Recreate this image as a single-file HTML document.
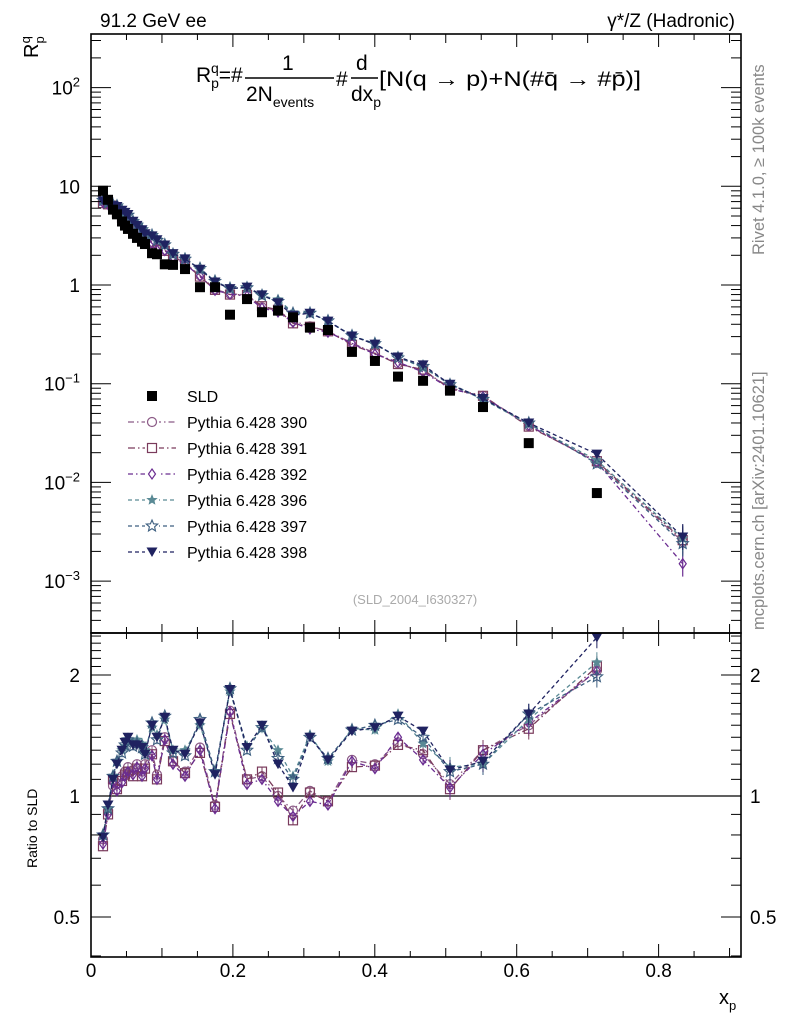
<!DOCTYPE html>
<html><head><meta charset="utf-8"><style>
html,body{margin:0;padding:0;background:#fff;}
svg{display:block;font-family:"Liberation Sans",sans-serif;}
</style></head><body>
<svg id="chart" width="786" height="1024" viewBox="0 0 786 1024" xmlns="http://www.w3.org/2000/svg">
<rect width="786" height="1024" fill="#fff"/>
<text x="100" y="27" font-size="19">91.2 GeV ee</text>
<text x="735" y="27" font-size="19" text-anchor="end">γ*/Z (Hadronic)</text>
<g transform="translate(38,58) rotate(-90)"><text font-size="20">R<tspan font-size="13" dy="6">p</tspan><tspan font-size="13" dx="-7" dy="-14">q</tspan></text></g>
<text x="196" y="82" font-size="21">R<tspan font-size="14" dy="6">p</tspan><tspan font-size="14" dx="-8" dy="-15">q</tspan><tspan dy="9">=#</tspan></text>
<text x="282" y="70" font-size="21">1</text>
<line x1="245" y1="78" x2="334" y2="78" stroke="#000" stroke-width="1.4"/>
<text x="246" y="101" font-size="21">2N<tspan font-size="14" dy="6">events</tspan></text>
<text x="336" y="86" font-size="21">#</text>
<text x="356" y="70" font-size="21">d</text>
<line x1="351" y1="78" x2="378" y2="78" stroke="#000" stroke-width="1.4"/>
<text x="351" y="101" font-size="21">dx<tspan font-size="14" dy="6">p</tspan></text>
<text x="379" y="86" font-size="21" textLength="262" lengthAdjust="spacingAndGlyphs">[N(q →  p)+N(#q̄ →  #p̄)]</text>
<text transform="translate(764,255) rotate(-90)" font-size="16.5" fill="#888">Rivet 4.1.0, ≥ 100k events</text>
<text transform="translate(764,630) rotate(-90)" font-size="16.5" fill="#888">mcplots.cern.ch [arXiv:2401.10621]</text>
<text x="415" y="604" font-size="13" fill="#aaa" text-anchor="middle">(SLD_2004_I630327)</text>
<text transform="translate(37,868) rotate(-90)" font-size="14">Ratio to SLD</text>
<text x="719" y="1004" font-size="20">x<tspan font-size="13" dy="6">p</tspan></text>
<g id="plot"></g>
</svg>
<script>
const xs=[0.0169,0.024,0.031,0.0366,0.0437,0.0479,0.0521,0.0592,0.0648,0.0719,0.0761,0.086,0.093,0.104,0.1156,0.1325,0.1536,0.1748,0.1959,0.2199,0.241,0.2636,0.2847,0.3086,0.334,0.3678,0.4002,0.4327,0.468,0.506,0.5525,0.617,0.713];
const sld=[9.0,7.3,5.8,5.2,4.4,4.0,3.7,3.3,3.0,2.75,2.6,2.1,2.05,1.62,1.6,1.45,0.95,0.95,0.5,0.72,0.53,0.55,0.47,0.37,0.35,0.21,0.17,0.118,0.107,0.085,0.058,0.025,0.0078];
const r390=[0.78,0.92,1.06,1.07,1.12,1.15,1.18,1.16,1.2,1.15,1.2,1.3,1.13,1.4,1.22,1.15,1.32,0.95,1.63,1.1,1.12,1.0,0.92,1.03,0.97,1.23,1.2,1.36,1.27,1.07,1.3,1.5,2.05];
const r391=[0.75,0.9,1.1,1.04,1.09,1.13,1.15,1.12,1.17,1.12,1.17,1.27,1.1,1.37,1.22,1.14,1.28,0.94,1.6,1.1,1.15,1.02,0.87,1.02,0.97,1.18,1.19,1.34,1.3,1.04,1.3,1.47,2.1];
const r392=[0.76,0.9,1.08,1.03,1.08,1.12,1.15,1.13,1.18,1.12,1.17,1.26,1.1,1.38,1.2,1.12,1.3,0.93,1.62,1.07,1.1,0.97,0.89,0.97,0.95,1.22,1.17,1.4,1.23,1.05,1.27,1.52,2.05];
const r396=[0.8,0.93,1.12,1.22,1.3,1.33,1.38,1.36,1.38,1.35,1.3,1.48,1.42,1.55,1.3,1.3,1.5,1.15,1.82,1.33,1.47,1.3,1.12,1.42,1.22,1.47,1.46,1.6,1.35,1.18,1.2,1.55,2.15];
const r397=[0.8,0.93,1.12,1.22,1.28,1.34,1.38,1.33,1.35,1.32,1.27,1.52,1.38,1.58,1.28,1.26,1.55,1.15,1.85,1.3,1.48,1.24,1.1,1.4,1.24,1.46,1.5,1.55,1.4,1.15,1.2,1.6,1.98];
const r398=[0.79,0.95,1.1,1.2,1.3,1.36,1.4,1.34,1.34,1.32,1.27,1.5,1.4,1.57,1.3,1.27,1.52,1.13,1.84,1.32,1.5,1.2,1.05,1.4,1.23,1.45,1.48,1.58,1.45,1.16,1.22,1.6,2.48];
const lastX=0.834;
const mcLast=[0.0025,0.0026,0.0015,0.0027,0.0024,0.0028];
const seriesNames=["Pythia 6.428 390","Pythia 6.428 391","Pythia 6.428 392","Pythia 6.428 396","Pythia 6.428 397","Pythia 6.428 398"];
const yTickLabels=["10⁻³","10⁻²","10⁻¹","1","10","10²"];
const xTickLabels=["0","0.2","0.4","0.6","0.8"];
const ratioTickLabels=["0.5","1","2"];

const NS="http://www.w3.org/2000/svg";
const g=document.getElementById('plot');
function mk(t,a,p){const e=document.createElementNS(NS,t);for(const k in a)e.setAttribute(k,a[k]);(p||g).appendChild(e);return e;}
const L=91,R=741,T=34,MB=633,RB=957;
const X=v=>L+v*709.5;
const Y=v=>285-Math.log10(v)*98.7;
const YR=v=>796-Math.log2(v)*121;
const ratios=[r390,r391,r392,r396,r397,r398];
const colors=["#8b5a86","#7a3b5c","#6b2d91","#5a8a95","#3d5f80","#1f2260"];
const dashes=["6,3,1.5,3","7,3,1.5,3","5,3,1.5,3","4,3","4,3","4,3"];
const shapes=["circle","square","diamond","starF","starO","tri"];

function marker(p,shape,x,y,c,s){
  s=s||1;
  if(shape==="circle")return mk('circle',{cx:x,cy:y,r:4.5*s,fill:'none',stroke:c,'stroke-width':1.2},p);
  if(shape==="square")return mk('rect',{x:x-4.5*s,y:y-4.5*s,width:9*s,height:9*s,fill:'none',stroke:c,'stroke-width':1.2},p);
  if(shape==="diamond")return mk('polygon',{points:`${x},${y-5*s} ${x+3.5*s},${y} ${x},${y+5*s} ${x-3.5*s},${y}`,fill:'none',stroke:c,'stroke-width':1.2},p);
  if(shape==="tri")return mk('polygon',{points:`${x-5.5*s},${y-4.5*s} ${x+5.5*s},${y-4.5*s} ${x},${y+5*s}`,fill:c},p);
  const big=shape==="starO"?6:4.5;let pts=[];
  for(let i=0;i<10;i++){const a=-Math.PI/2+i*Math.PI/5;const rr=(i%2?big*0.45:big)*s;pts.push((x+rr*Math.cos(a)).toFixed(1)+','+(y+rr*Math.sin(a)).toFixed(1));}
  return mk('polygon',{points:pts.join(' '),fill:shape==="starO"?'none':c,stroke:c,'stroke-width':1.1},p);
}

const defs=mk('defs',{});
const c1=mk('clipPath',{id:'cm'},defs);mk('rect',{x:L,y:T,width:R-L,height:MB-T},c1);
const c2=mk('clipPath',{id:'cr'},defs);mk('rect',{x:L,y:MB,width:R-L,height:RB-MB},c2);

const ref=mk('line',{x1:L,y1:YR(1),x2:R,y2:YR(1),stroke:'#000','stroke-width':1.2});



ratios.forEach((r,si)=>{
  const c=colors[si];
  const gm=mk('g',{'clip-path':'url(#cm)'});
  
  
  const pts=xs.map((x,i)=>[X(x),Y(sld[i]*r[i])]);pts.push([X(lastX),Y(mcLast[si])]);
  mk('polyline',{points:pts.map(p=>p.join(',')).join(' '),fill:'none',stroke:c,'stroke-width':1.3,'stroke-dasharray':dashes[si]},gm);
  pts.forEach(p=>marker(gm,shapes[si],p[0],p[1],c));
  mk('line',{x1:X(lastX),y1:Y(mcLast[si]*1.35),x2:X(lastX),y2:Y(mcLast[si]/1.35),stroke:c,'stroke-width':1.2},gm);
  const gr=mk('g',{'clip-path':'url(#cr)'});
  
  
  const rp=xs.map((x,i)=>[X(x),YR(r[i])]);
  mk('polyline',{points:rp.map(p=>p.join(',')).join(' '),fill:'none',stroke:c,'stroke-width':1.3,'stroke-dasharray':dashes[si]},gr);
  rp.forEach((p,i)=>{const e=r[i]*(i>28?0.06:0.025);mk('line',{x1:p[0],y1:YR(r[i]+e),x2:p[0],y2:YR(r[i]-e),stroke:c,'stroke-width':1},gr);marker(gr,shapes[si],p[0],p[1],c);});
});
const gs=mk('g',{'clip-path':'url(#cm)'});


xs.forEach((x,i)=>{const sq=mk('rect',{x:X(x)-5,y:Y(sld[i])-5,width:10,height:10,fill:'#000'},gs);
  
  });

[[T,MB],[MB,RB]].forEach(([a,b],k)=>{const f=mk('rect',{x:L,y:a,width:R-L,height:b-a,fill:'none',stroke:'#000','stroke-width':1.6});
  
  });

for(let i=0;i<=18;i++){const v=i*0.05;const x=X(v);if(x>R)break;
  const len=i%4===0?13:(i%2===0?9:6);
  [T,MB].forEach(y=>mk('line',{x1:x,y1:y,x2:x,y2:y+len,stroke:'#000','stroke-width':1}));
  [MB,RB].forEach(y=>mk('line',{x1:x,y1:y,x2:x,y2:y-len,stroke:'#000','stroke-width':1}));}
xTickLabels.forEach((t,i)=>{const e=mk('text',{x:X(i*0.2),y:977,'font-size':19,'text-anchor':'middle'});e.textContent=t;
  
  });

for(let d=-4;d<=2;d++){for(let m=1;m<10;m++){const v=m*Math.pow(10,d);const y=Y(v);if(y<T||y>MB)continue;
  const len=m===1?20:10;
  mk('line',{x1:L,y1:y,x2:L+len,y2:y,stroke:'#000','stroke-width':1});
  mk('line',{x1:R,y1:y,x2:R-len,y2:y,stroke:'#000','stroke-width':1});}}
yTickLabels.forEach((t,i)=>{const d=i-3;const e=mk('text',{x:80,y:Y(Math.pow(10,d))+7,'font-size':19,'text-anchor':'end'});
  
  
  if(d===0||d===1){e.textContent=t;}else{e.textContent='10';const s=mk('tspan',{'font-size':13,dy:-8},e);s.textContent=d<0?'−'+(-d):''+d;}});

for(let v=0.4;v<=2.6;v+=0.1){const y=YR(v);if(y<MB||y>RB)continue;const maj=Math.abs(v-0.5)<1e-6||Math.abs(v-1)<1e-6||Math.abs(v-2)<1e-6;
  const len=maj?20:10;
  mk('line',{x1:L,y1:y,x2:L+len,y2:y,stroke:'#000','stroke-width':1});
  mk('line',{x1:R,y1:y,x2:R-len,y2:y,stroke:'#000','stroke-width':1});}
ratioTickLabels.forEach(t=>{const v=parseFloat(t);
  const a=mk('text',{x:80,y:YR(v)+7,'font-size':19,'text-anchor':'end'});a.textContent=t;
  
  
  const b=mk('text',{x:750,y:YR(v)+7,'font-size':19});b.textContent=t;
  
  });

const lg=mk('g',{});


const e0=mk('g',{},lg);


mk('rect',{x:147,y:391,width:10,height:10,fill:'#000'},e0);
const t0=mk('text',{x:187,y:402,'font-size':16},e0);t0.textContent='SLD';
seriesNames.forEach((n,i)=>{const y=422+i*26;const e=mk('g',{},lg);
  
  
  mk('line',{x1:128,y1:y,x2:176,y2:y,stroke:colors[i],'stroke-width':1.3,'stroke-dasharray':dashes[i]},e);
  mk('rect',{x:145,y:y-6,width:14,height:12,fill:'#fff'},e);
  marker(e,shapes[i],152,y,colors[i]);
  const t=mk('text',{x:187,y:y+6,'font-size':16},e);t.textContent=n;});
</script>
</body></html>
